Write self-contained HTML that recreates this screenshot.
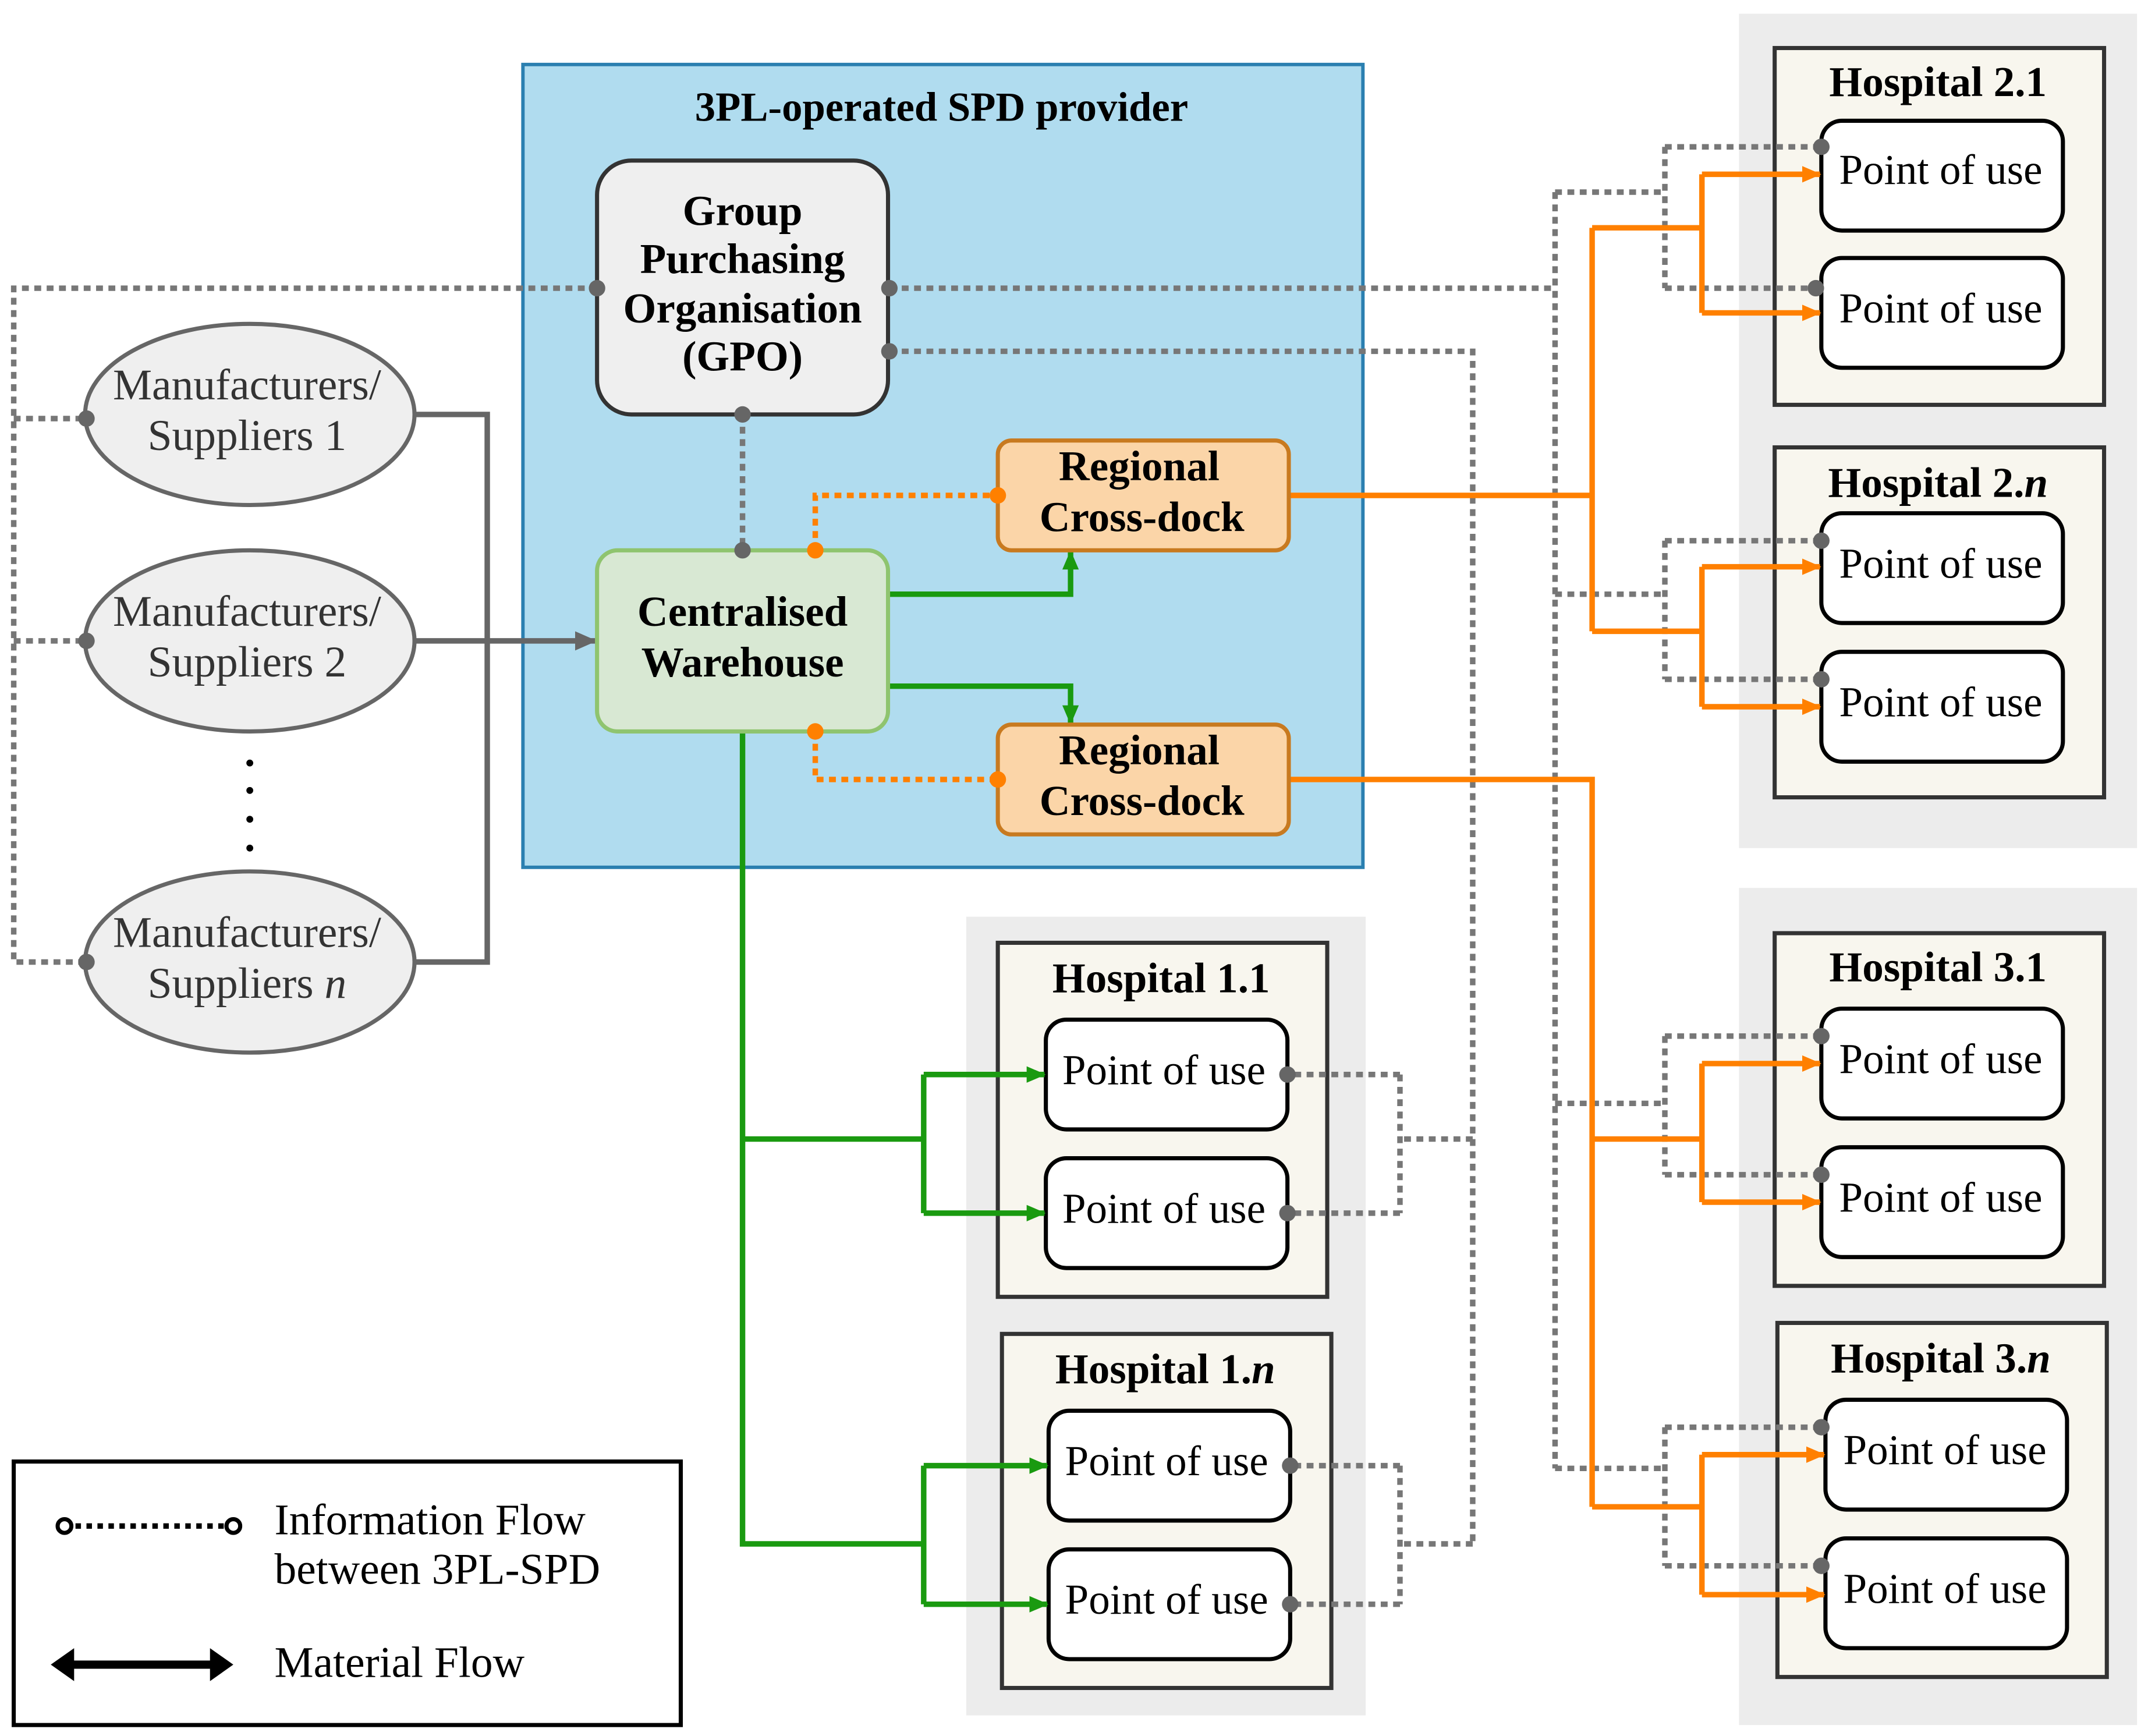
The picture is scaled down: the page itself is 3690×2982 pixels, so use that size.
<!DOCTYPE html>
<html><head><meta charset="utf-8"><style>html,body{margin:0;padding:0;background:#fff}svg{display:block}</style></head>
<body>
<svg width="3690" height="2982" viewBox="0 0 1565 1265" preserveAspectRatio="none" xmlns="http://www.w3.org/2000/svg" font-family="'Liberation Serif', serif">
<defs>
<marker id="ao" markerWidth="14" markerHeight="14" refX="13" refY="7" orient="auto" markerUnits="userSpaceOnUse"><path d="M0,1 L14,7 L0,13 z" fill="#ff8000"/></marker>
<marker id="ag" markerWidth="14" markerHeight="14" refX="13" refY="7" orient="auto" markerUnits="userSpaceOnUse"><path d="M0,1 L14,7 L0,13 z" fill="#1a9a10"/></marker>
<marker id="ay" markerWidth="16" markerHeight="16" refX="15" refY="8" orient="auto" markerUnits="userSpaceOnUse"><path d="M0,1 L16,8 L0,15 z" fill="#666"/></marker>
</defs>
<rect x="1267" y="10" width="290" height="608" fill="#ececec"/>
<rect x="1267" y="647" width="290" height="610" fill="#ececec"/>
<rect x="704" y="668" width="291" height="582" fill="#ececec"/>
<rect x="381" y="47" width="612" height="585" fill="#b0dcef" stroke="#2a7fb0" stroke-width="2.5"/>
<text x="686" y="88" font-size="30" font-weight="bold" text-anchor="middle">3PL-operated SPD provider</text>

<g fill="#f8f6ee" stroke="#333" stroke-width="3">
<rect x="1293" y="35" width="240" height="260"/>
<rect x="1293" y="326" width="240" height="255"/>
<rect x="1293" y="680" width="240" height="257"/>
<rect x="1295" y="964" width="240" height="258"/>
<rect x="727" y="687" width="240" height="258"/>
<rect x="730" y="972" width="240" height="258"/>
</g>
<g font-size="31" font-weight="bold" text-anchor="middle">
<text x="1412" y="70">Hospital 2.1</text>
<text x="1412" y="362">Hospital 2.<tspan font-style="italic">n</tspan></text>
<text x="1412" y="715">Hospital 3.1</text>
<text x="1414" y="1000">Hospital 3.<tspan font-style="italic">n</tspan></text>
<text x="846" y="723">Hospital 1.1</text>
<text x="849" y="1008">Hospital 1.<tspan font-style="italic">n</tspan></text>
</g>
<g fill="#fff" stroke="#000" stroke-width="3">
<rect x="1327" y="88" width="176" height="80" rx="15"/>
<rect x="1327" y="188" width="176" height="80" rx="15"/>
<rect x="1327" y="374" width="176" height="80" rx="15"/>
<rect x="1327" y="475" width="176" height="80" rx="15"/>
<rect x="1327" y="735" width="176" height="80" rx="15"/>
<rect x="1327" y="836" width="176" height="80" rx="15"/>
<rect x="1330" y="1020" width="176" height="80" rx="15"/>
<rect x="1330" y="1121" width="176" height="80" rx="15"/>
<rect x="762" y="743" width="176" height="80" rx="15"/>
<rect x="762" y="844" width="176" height="80" rx="15"/>
<rect x="764" y="1028" width="176" height="80" rx="15"/>
<rect x="764" y="1129" width="176" height="80" rx="15"/>
</g>
<g font-size="31" text-anchor="middle">
<text x="1414" y="134">Point of use</text>
<text x="1414" y="235">Point of use</text>
<text x="1414" y="421">Point of use</text>
<text x="1414" y="522">Point of use</text>
<text x="1414" y="782">Point of use</text>
<text x="1414" y="883">Point of use</text>
<text x="1417" y="1067">Point of use</text>
<text x="1417" y="1168">Point of use</text>
<text x="848" y="790">Point of use</text>
<text x="848" y="891">Point of use</text>
<text x="850" y="1075">Point of use</text>
<text x="850" y="1176">Point of use</text>
</g>

<g fill="none" stroke="#777" stroke-width="4" stroke-dasharray="5 4">
<path d="M435,210 H10 V701 H63 M10,305 H63 M10,467 H63"/>
<path d="M541,302 V401"/>
<path d="M648,210 H1133 M1133,140 V1070"/>
<path d="M1133,140 H1213 M1213,107 V210 M1213,107 H1327 M1213,210 H1323"/>
<path d="M1133,433 H1213 M1213,394 V495 M1213,394 H1327 M1213,495 H1327"/>
<path d="M1133,804 H1213 M1213,755 V856 M1213,755 H1327 M1213,856 H1327"/>
<path d="M1133,1070 H1213 M1213,1040 V1141 M1213,1040 H1327 M1213,1141 H1327"/>
<path d="M648,256 H1073 V1125"/>
<path d="M1073,830 H1020 M1020,783 V884 M1020,783 H938 M1020,884 H938"/>
<path d="M1073,1125 H1020 M1020,1068 V1169 M1020,1068 H940 M1020,1169 H940"/>
</g>
<g fill="none" stroke="#ff8000" stroke-width="4" stroke-dasharray="5 4">
<path d="M594,401 V361 H727"/>
<path d="M594,533 V568 H727"/>
</g>

<g fill="none" stroke="#666" stroke-width="4">
<path d="M302,302 H355 V701 H302"/>
<path d="M302,467 H434" marker-end="url(#ay)"/>
</g>

<g fill="none" stroke="#1a9a10" stroke-width="4">
<path d="M648,433 H780 V402" marker-end="url(#ag)"/>
<path d="M648,500 H780 V527" marker-end="url(#ag)"/>
<path d="M541,533 V1125 H673 M541,830 H673 M673,783 V884"/>
<path d="M673,1068 V1169"/>
<path d="M673,783 H761" marker-end="url(#ag)"/>
<path d="M673,884 H761" marker-end="url(#ag)"/>
<path d="M673,1068 H763" marker-end="url(#ag)"/>
<path d="M673,1169 H763" marker-end="url(#ag)"/>
</g>

<g fill="none" stroke="#ff8000" stroke-width="4">
<path d="M939,361 H1160 M1160,166 V460 M1160,166 H1240 M1240,127 V228 M1160,460 H1240 M1240,413 V515"/>
<path d="M939,568 H1160 V1098 M1160,830 H1240 M1240,775 V876 M1160,1098 H1240 M1240,1060 V1162"/>
<path d="M1240,127 H1326" marker-end="url(#ao)"/>
<path d="M1240,228 H1326" marker-end="url(#ao)"/>
<path d="M1240,413 H1326" marker-end="url(#ao)"/>
<path d="M1240,515 H1326" marker-end="url(#ao)"/>
<path d="M1240,775 H1326" marker-end="url(#ao)"/>
<path d="M1240,876 H1326" marker-end="url(#ao)"/>
<path d="M1240,1060 H1329" marker-end="url(#ao)"/>
<path d="M1240,1162 H1329" marker-end="url(#ao)"/>
</g>

<rect x="435" y="117" width="212" height="185" rx="25" fill="#efefef" stroke="#333" stroke-width="3"/>
<g font-size="31" font-weight="bold" text-anchor="middle">
<text x="541" y="164">Group</text>
<text x="541" y="199">Purchasing</text>
<text x="541" y="235">Organisation</text>
<text x="541" y="270">(GPO)</text>
<text x="541" y="456">Centralised</text>
<text x="541" y="493">Warehouse</text>
</g>
<rect x="435" y="401" width="212" height="132" rx="15" fill="#d8e8d3" stroke="#8fc46f" stroke-width="3"/>
<g font-size="31" font-weight="bold" text-anchor="middle">
<text x="541" y="456">Centralised</text>
<text x="541" y="493">Warehouse</text>
</g>
<rect x="727" y="321" width="212" height="80" rx="10" fill="#fbd5a8" stroke="#c87a20" stroke-width="3"/>
<rect x="727" y="528" width="212" height="80" rx="10" fill="#fbd5a8" stroke="#c87a20" stroke-width="3"/>
<g font-size="31" font-weight="bold" text-anchor="middle">
<text x="830" y="350">Regional</text>
<text x="832" y="387">Cross-dock</text>
<text x="830" y="557">Regional</text>
<text x="832" y="594">Cross-dock</text>
</g>

<g fill="#efefef" stroke="#666" stroke-width="3">
<ellipse cx="182" cy="302" rx="120" ry="66"/>
<ellipse cx="182" cy="467" rx="120" ry="66"/>
<ellipse cx="182" cy="701" rx="120" ry="66"/>
</g>
<g font-size="32" text-anchor="middle" fill="#333">
<text x="180" y="291">Manufacturers/</text><text x="180" y="328">Suppliers 1</text>
<text x="180" y="456">Manufacturers/</text><text x="180" y="493">Suppliers 2</text>
<text x="180" y="690">Manufacturers/</text><text x="180" y="727">Suppliers <tspan font-style="italic">n</tspan></text>
</g>
<g fill="#000"><circle cx="182" cy="556" r="2.5"/><circle cx="182" cy="576" r="2.5"/><circle cx="182" cy="597" r="2.5"/><circle cx="182" cy="618" r="2.5"/></g>

<g fill="#666">
<circle cx="435" cy="210" r="6"/><circle cx="648" cy="210" r="6"/><circle cx="648" cy="256" r="6"/>
<circle cx="541" cy="302" r="6"/><circle cx="541" cy="401" r="6"/>
<circle cx="63" cy="305" r="6"/><circle cx="63" cy="467" r="6"/><circle cx="63" cy="701" r="6"/>
<circle cx="1327" cy="107" r="6"/><circle cx="1323" cy="210" r="6"/><circle cx="1327" cy="394" r="6"/><circle cx="1327" cy="495" r="6"/>
<circle cx="1327" cy="755" r="6"/><circle cx="1327" cy="856" r="6"/><circle cx="1327" cy="1040" r="6"/><circle cx="1327" cy="1141" r="6"/>
<circle cx="938" cy="783" r="6"/><circle cx="938" cy="884" r="6"/><circle cx="940" cy="1068" r="6"/><circle cx="940" cy="1169" r="6"/>
</g>
<g fill="#ff8000"><circle cx="594" cy="401" r="6"/><circle cx="727" cy="361" r="6"/><circle cx="594" cy="533" r="6"/><circle cx="727" cy="568" r="6"/></g>

<rect x="10" y="1065" width="486" height="192" fill="#fff" stroke="#000" stroke-width="3"/>
<path d="M47,1112 H170" stroke="#000" stroke-width="4" stroke-dasharray="4 4"/>
<circle cx="47" cy="1112" r="5" fill="#fff" stroke="#000" stroke-width="3"/>
<circle cx="170" cy="1112" r="5" fill="#fff" stroke="#000" stroke-width="3"/>
<path d="M50,1213 H158" stroke="#000" stroke-width="6"/>
<path d="M37,1213 L54,1201 L54,1225 z M170,1213 L153,1201 L153,1225 z" fill="#000"/>
<g font-size="32">
<text x="200" y="1118">Information Flow</text>
<text x="200" y="1154">between 3PL-SPD</text>
<text x="200" y="1222">Material Flow</text>
</g>
</svg>
</body></html>
